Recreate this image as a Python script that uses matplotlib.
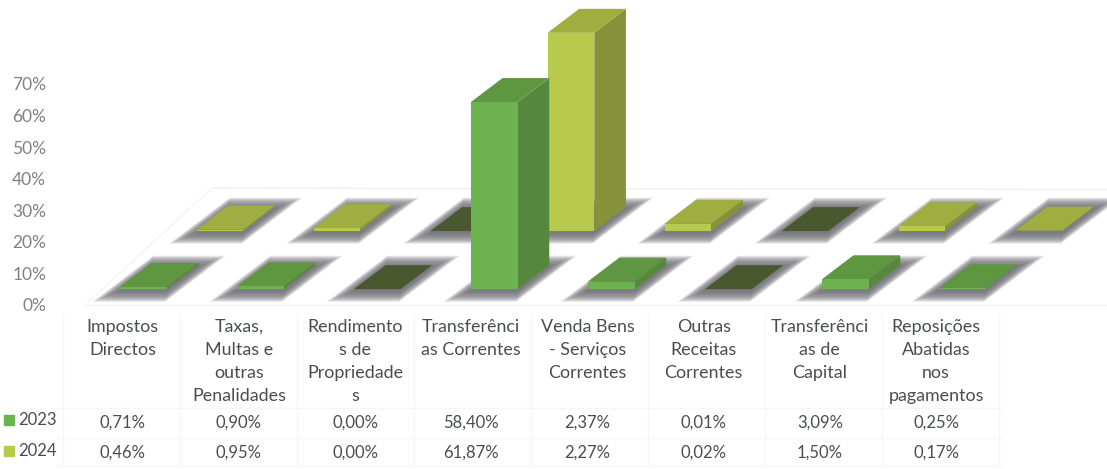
import matplotlib
matplotlib.use('Agg')
import matplotlib.pyplot as plt
from matplotlib.patches import Polygon

plt.rcParams['font.family'] = ['Lato', 'DejaVu Sans']

# dados
categorias = ['Impostos\nDirectos', 'Taxas,\nMultas e\noutras\nPenalidades',
              'Rendimento\ns de\nPropriedade\ns', 'Transferênci\nas Correntes',
              'Venda Bens\n- Serviços\nCorrentes', 'Outras\nReceitas\nCorrentes',
              'Transferênci\nas de\nCapital', 'Reposições\nAbatidas\nnos\npagamentos']
valores_2023 = [0.71, 0.90, 0.00, 58.40, 2.37, 0.01, 3.09, 0.25]
valores_2024 = [0.46, 0.95, 0.00, 61.87, 2.27, 0.02, 1.50, 0.17]
rotulos_2023 = ['0,71%', '0,90%', '0,00%', '58,40%', '2,37%', '0,01%', '3,09%', '0,25%']
rotulos_2024 = ['0,46%', '0,95%', '0,00%', '61,87%', '2,27%', '0,02%', '1,50%', '0,17%']
ticks_y = [0, 10, 20, 30, 40, 50, 60, 70]

# geometria da pseudo-perspectiva (unidades dos eixos)
larg = 0.40       # largura da barra
prof_x = 0.27     # deslocamento da profundidade em x
prof_y = 7.6      # deslocamento da profundidade em y
escala = 1.015

cores_2023 = {'frente': '#6cb24f', 'lado': '#55883c', 'topo': '#5f9642'}
cores_2024 = {'frente': '#b7ca4c', 'lado': '#87913a', 'topo': '#a0ad40'}
cor_vazia = '#4a5830'

fig = plt.figure(figsize=(11.07, 4.69), dpi=100)
ax = fig.add_axes([56 / 1107, 0, 1 - 56 / 1107, 1])
ax.set_xlim(-0.581, 8.402)
ax.set_ylim(-51.95, 96.6)
for s in ax.spines.values():
    s.set_visible(False)
ax.set_xticks([])
ax.set_yticks(ticks_y)
ax.set_yticklabels([f'{t}%' for t in ticks_y], color='#7d8286', fontsize=12.5)
ax.tick_params(axis='y', length=0, pad=7)


def sombra(x0, y0):
    # halo desfocado em volta da base
    camadas = 16
    y0 = y0 - 0.5
    for k in range(camadas, 0, -1):
        eu = 0.11 * k / camadas
        ev = 3.5 * k / camadas
        dx = prof_x * ev / prof_y
        pts = [(x0 - eu - dx, y0 - ev), (x0 + larg + eu - dx, y0 - ev),
               (x0 + larg + eu + prof_x + dx, y0 + prof_y + ev),
               (x0 - eu + prof_x + dx, y0 + prof_y + ev)]
        ax.add_patch(Polygon(pts, fc='#707078', ec='none', alpha=0.13, zorder=2))


def barra(x0, y0, h, cores):
    h = h * escala
    if h < 0.1:
        pts = [(x0, y0), (x0 + larg, y0), (x0 + larg + prof_x, y0 + prof_y), (x0 + prof_x, y0 + prof_y)]
        ax.add_patch(Polygon(pts, fc=cor_vazia, ec='none', zorder=3))
        return
    ax.add_patch(Polygon([(x0 + larg, y0), (x0 + larg + prof_x, y0 + prof_y),
                          (x0 + larg + prof_x, y0 + prof_y + h), (x0 + larg, y0 + h)],
                         fc=cores['lado'], ec='none', zorder=3))
    ax.add_patch(Polygon([(x0, y0 + h), (x0 + larg, y0 + h),
                          (x0 + larg + prof_x, y0 + h + prof_y), (x0 + prof_x, y0 + h + prof_y)],
                         fc=cores['topo'], ec='none', zorder=3))
    ax.add_patch(Polygon([(x0, y0), (x0 + larg, y0), (x0 + larg, y0 + h), (x0, y0 + h)],
                         fc=cores['frente'], ec='none', zorder=3))


n = len(categorias)
piso_frente = 5.0
piso_fundo = 23.4

# chão e grelha muito ténues
ax.plot([-0.33, 8.4], [0, 0], color='#f1f1f1', lw=1, zorder=1)
ax.plot([0.75, 8.4], [37, 36.6], color='#efefef', lw=1, zorder=1)
ax.plot([-0.33, 0.75], [0, 37], color='#f5f5f5', lw=1, zorder=1)

for i in range(n):
    sombra(i + 0.62, piso_fundo)
for i in range(n):
    sombra(i - 0.035, piso_frente)
for i in range(n):
    barra(i + 0.62, piso_fundo, valores_2024[i], cores_2024)
for i in range(n):
    barra(i - 0.035, piso_frente, valores_2023[i], cores_2023)

# tabela de dados
cor_texto = '#4a4d50'
y_cat = -4.3
y_2023 = -37.4
y_2024 = -46.9
passo_tab = 0.993
for i in range(n):
    xt = i * passo_tab - 0.01
    ax.text(xt, y_cat, categorias[i], ha='center', va='top', fontsize=12.9, color=cor_texto,
            linespacing=1.55)
    ax.text(xt, y_2023, rotulos_2023[i], ha='center', va='center', fontsize=12, color=cor_texto)
    ax.text(xt, y_2024, rotulos_2024[i], ha='center', va='center', fontsize=12, color=cor_texto)

for i in range(n + 1):
    ax.plot([i - 0.52, i - 0.52], [-3, -51], color='#f6f6f6', lw=1, zorder=1)
for yl in [-32.5, -42, -51]:
    ax.plot([-0.58, 7.5], [yl, yl], color='#f6f6f6', lw=1, zorder=1)

# legenda da tabela
ax.plot([-0.985], [-36.4], 's', ms=7.5, color=cores_2023['frente'], clip_on=False)
ax.plot([-0.985], [-46.2], 's', ms=7.5, color=cores_2024['frente'], clip_on=False)
ax.text(-0.9, -36.4, '2023', ha='left', va='center', fontsize=12, color=cor_texto)
ax.text(-0.9, -46.2, '2024', ha='left', va='center', fontsize=12, color=cor_texto)

plt.savefig('out.png', dpi=100)
